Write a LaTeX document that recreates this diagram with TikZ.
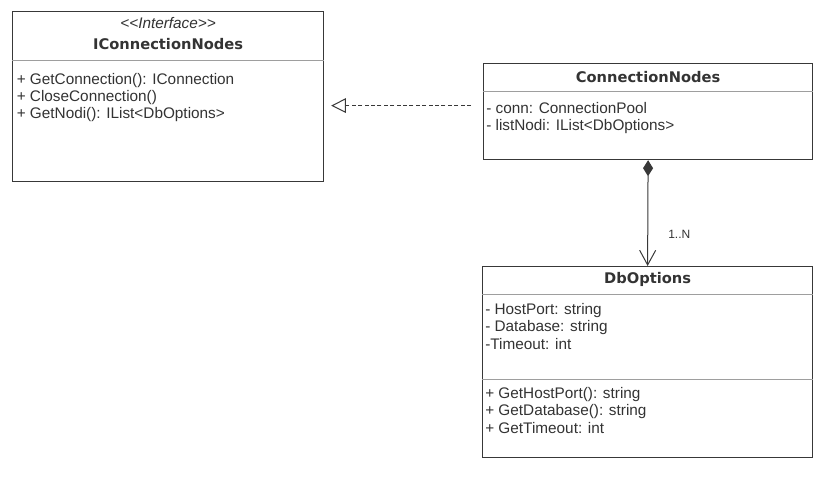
\documentclass[tikz,border=0pt]{standalone}
\usepackage{fontspec}
\setmainfont{Liberation Sans}
\newfontfamily\titlefont{DejaVu Sans}
\usetikzlibrary{positioning,arrows.meta,calc}
\newdimen\px \px=0.75pt
\definecolor{umlline}{gray}{0.22}
\definecolor{umlsep}{gray}{0.62}
\definecolor{umltext}{gray}{0.2}
\tikzset{
  fig/.style={x=\px,y=-\px,font=\fontsize{11.5}{13}\selectfont,text=umltext},
  cls/.style={draw=umlline,line width=0.9pt,anchor=north west,inner sep=0pt,fill=white},
  sep/.style={draw=umlsep,line width=0.75pt},
  stereo/.style={anchor=base,inner sep=0pt,font=\itshape\fontsize{11.5}{13}\selectfont},
  clsname/.style={anchor=base,inner sep=0pt,font=\titlefont\bfseries\fontsize{11}{13}\selectfont},
  % base anchor of a multi-line node = baseline of its last line
  members/.style={anchor=base west,align=left,inner sep=0pt},
  realize/.style={draw=umlline,line width=0.75pt,dash pattern=on 3pt off 1.8pt,
                  -{Triangle[open,length=11pt,width=11pt,fill=white]}},
  compose/.style={draw=umlline,line width=0.75pt,
                  {Diamond[length=12pt,width=7.5pt]}-{Straight Barb[length=11pt,width=12pt]}},
  lbl/.style={font=\fontsize{9}{10}\selectfont,inner sep=0pt},
}
\begin{document}
\begin{tikzpicture}[fig]
\useasboundingbox (0,0) rectangle (833,478);

% --- interface
\node[cls,minimum width=311\px,minimum height=170\px] (ifc) at (12,11) {};
\draw[sep] ($(ifc.north west)+(0,50)$) -- ($(ifc.north east)+(0,50)$);
\node[stereo] (ifc-st) at ($(ifc.north)+(0,18)$) {\textless\kern0pt\textless Interface\textgreater\kern0pt\textgreater};
\node[clsname] (ifc-nm) at ($(ifc.north)+(0,39)$) {IConnectionNodes};
\node[members] (ifc-op) at ($(ifc.north west)+(4.5,108)$)
     {+ GetConnection(): IConnection\\+ CloseConnection()\\+ GetNodi(): IList<DbOptions>};

% --- implementing class
\node[cls,minimum width=329\px,minimum height=96\px] (conn) at (483,63) {};
\draw[sep] ($(conn.north west)+(0,29)$) -- ($(conn.north east)+(0,29)$);
\node[clsname] (conn-nm) at ($(conn.north)+(0,20)$) {ConnectionNodes};
\node[members] (conn-at) at ($(conn.north west)+(3,68)$)
     {- conn: ConnectionPool\\- listNodi: IList<DbOptions>};

% --- options class
\node[cls,minimum width=330\px,minimum height=191\px] (dbo) at (482,266) {};
\draw[sep] ($(dbo.north west)+(0,28)$) -- ($(dbo.north east)+(0,28)$);
\draw[sep] ($(dbo.north west)+(0,113)$) -- ($(dbo.north east)+(0,113)$);
\node[clsname] (dbo-nm) at ($(dbo.north)+(0,17)$) {DbOptions};
\node[members] (dbo-at) at ($(dbo.north west)+(3,83)$)
     {- HostPort: string\\- Database: string\\-Timeout: int};
\node[members] (dbo-op) at ($(dbo.north west)+(3,167)$)
     {+ GetHostPort(): string\\+ GetDatabase(): string\\+ GetTimeout: int};

% --- relations
\draw[realize] ($(conn.west)+(-12,-6)$) -- ($(ifc.east |- conn.west)+(7,-6)$);
\draw[compose] (conn.south) -- node[lbl,pos=0.7,right=15pt]{1..N} (dbo.north);

\end{tikzpicture}
\end{document}
